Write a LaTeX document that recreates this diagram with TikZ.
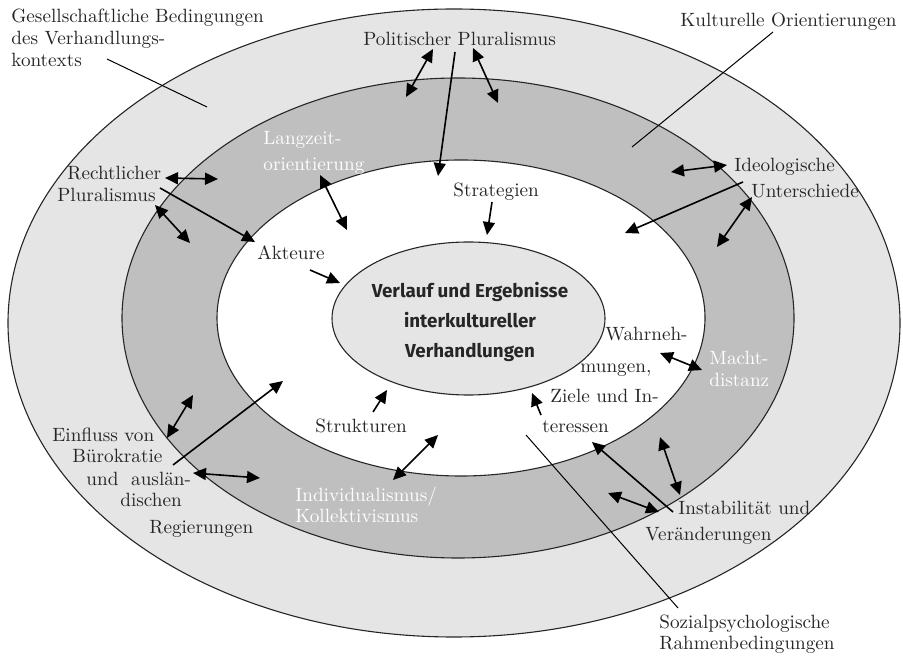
\documentclass[tikz,border=0pt]{standalone}
\usepackage{fontspec}
\newfontfamily\kernfont{Fira Sans}
\usetikzlibrary{arrows.meta}
\definecolor{ringhell}{gray}{0.9}
\definecolor{ringdunkel}{gray}{0.75}
\definecolor{schrift}{gray}{0.15}

\begin{document}
\begin{tikzpicture}[x=0.5pt,y=-0.5pt,
  ring/.style={draw=black!85,line width=0.55pt},
  lbl/.style={text=schrift,font=\fontsize{9.6}{11.25}\selectfont,inner sep=0pt,anchor=base west},
  wlbl/.style={lbl,text=white},
  zeiger/.style={draw=black,line width=0.5pt},
  pfeil/.style={zeiger,line width=0.8pt,-{Triangle[length=6.5pt,width=6pt]}},
  dpfeil/.style={zeiger,line width=0.8pt,{Triangle[length=6.5pt,width=6pt]}-{Triangle[length=6.5pt,width=6pt]}}]
\useasboundingbox (0,0) rectangle (903,656);
% Rings
  \filldraw[ring,fill=ringhell] (454,323) ellipse (446 and 314);
  \filldraw[ring,fill=ringdunkel] (458,318) ellipse (336 and 240);
  \filldraw[ring,fill=white] (461,318) ellipse (244 and 158);
  \filldraw[ring,fill=ringhell] (468.5,318.5) ellipse (136.5 and 76.5);
  \node[text=black!85,font=\kernfont\bfseries\fontsize{9.4}{15}\selectfont,align=center] (kern) at (470,322)
    {Verlauf und Ergebnisse\\interkultureller\\Verhandlungen};
%
% Outer labels
  \node[lbl] (gesA) at (11,23) {Gesellschaftliche Bedingungen};
  \node[lbl] (gesB) at (11,45) {des Verhandlungs-};
  \node[lbl] (gesC) at (11,67) {kontexts};
  \node[lbl] (pol) at (363,46) {Politischer Pluralismus};
  \node[lbl] (kult) at (680,27) {Kulturelle Orientierungen};
  \node[lbl] (rechtA) at (67,180) {Rechtlicher};
  \node[lbl] (rechtB) at (57,202) {Pluralismus};
  \node[lbl] (ideoA) at (734,172) {Ideologische};
  \node[lbl] (ideoB) at (751,198) {Unterschiede};
  \node[lbl] (einA) at (52,442) {Einfluss von};
  \node[lbl] (einB) at (72,463) {Bürokratie};
  \node[lbl] (einC) at (86,486) {und~ auslän-};
  \node[lbl] (einD) at (120,507) {dischen};
  \node[lbl] (einE) at (149,533) {Regierungen};
  \node[lbl] (instA) at (678,515) {Instabilität und};
  \node[lbl] (instB) at (645,540) {Veränderungen};
  \node[lbl] (sozA) at (659,628) {Sozialpsychologische};
  \node[lbl] (sozB) at (659,649) {Rahmenbedingungen};
% Middle ring labels
  \node[wlbl] (langA) at (263,145) {Langzeit-};
  \node[wlbl] (langB) at (263,171) {orientierung};
  \node[wlbl] (machtA) at (709,365) {Macht-};
  \node[wlbl] (machtB) at (709,387) {distanz};
  \node[wlbl] (indivA) at (295,502) {Individualismus/};
  \node[wlbl] (indivB) at (295,523) {Kollektivismus};
% Inner labels
  \node[lbl] (akt) at (257,260) {Akteure};
  \node[lbl] (strat) at (453,197) {Strategien};
  \node[lbl] (strukt) at (315,433) {Strukturen};
  \node[lbl] (wahrA) at (605,341) {Wahrneh-};
  \node[lbl] (wahrB) at (580,373) {mungen,};
  \node[lbl] (wahrC) at (550,403) {Ziele und In-};
  \node[lbl] (wahrD) at (542,433) {teressen};
%
% Connector ends
  \coordinate (ges1) at (107,59);   \coordinate (ges2) at (207,107);
  \coordinate (kult1) at (773,32);  \coordinate (kult2) at (632,147);
  \coordinate (soz1) at (678,608);  \coordinate (soz2) at (526,435);
  \coordinate (pol1) at (455,52);   \coordinate (pol2) at (438,176);
  \coordinate (polL1) at (433,49);  \coordinate (polL2) at (406,97);
  \coordinate (polR1) at (473,48);  \coordinate (polR2) at (498,103);
  \coordinate (lang1) at (320,175); \coordinate (lang2) at (347,230);
  \coordinate (recht1) at (160,188); \coordinate (recht2) at (255,242);
  \coordinate (rechtH1) at (165,178); \coordinate (rechtH2) at (218,179);
  \coordinate (rechtD1) at (155,205); \coordinate (rechtD2) at (190,243);
  \coordinate (akt1) at (310,270);  \coordinate (akt2) at (340,283);
  \coordinate (strat1) at (492,202); \coordinate (strat2) at (487,235);
  \coordinate (ideo1) at (743,182); \coordinate (ideo2) at (625,233);
  \coordinate (ideoH1) at (671,172); \coordinate (ideoH2) at (727,165);
  \coordinate (ideoD1) at (752,197); \coordinate (ideoD2) at (717,247);
  \coordinate (wahr1) at (660,353); \coordinate (wahr2) at (702,370);
  \coordinate (ziel1) at (541,415); \coordinate (ziel2) at (532,393);
  \coordinate (strukt1) at (373,412); \coordinate (strukt2) at (387,390);
  \coordinate (indiv1) at (438,435); \coordinate (indiv2) at (393,480);
  \coordinate (ein1) at (173,465);  \coordinate (ein2) at (283,381);
  \coordinate (einD1) at (167,438); \coordinate (einD2) at (193,395);
  \coordinate (einH1) at (193,473); \coordinate (einH2) at (260,478);
  \coordinate (inst1) at (673,512); \coordinate (inst2) at (592,442);
  \coordinate (instD1) at (660,437); \coordinate (instD2) at (680,495);
  \coordinate (instH1) at (608,493); \coordinate (instH2) at (659,512);
%
% Leader lines
  \draw[zeiger] (ges1) -- (ges2);
  \draw[zeiger] (kult1) -- (kult2);
  \draw[zeiger] (soz1) -- (soz2);
% Arrows
  \draw[pfeil] (pol1) -- (pol2);
  \draw[pfeil] (recht1) -- (recht2);
  \draw[pfeil] (akt1) -- (akt2);
  \draw[pfeil] (strat1) -- (strat2);
  \draw[pfeil] (ideo1) -- (ideo2);
  \draw[pfeil] (ziel1) -- (ziel2);
  \draw[pfeil] (strukt1) -- (strukt2);
  \draw[pfeil] (ein1) -- (ein2);
  \draw[pfeil] (inst1) -- (inst2);
  \draw[dpfeil] (polL1) -- (polL2);
  \draw[dpfeil] (polR1) -- (polR2);
  \draw[dpfeil] (lang1) -- (lang2);
  \draw[dpfeil] (rechtH1) -- (rechtH2);
  \draw[dpfeil] (rechtD1) -- (rechtD2);
  \draw[dpfeil] (ideoH1) -- (ideoH2);
  \draw[dpfeil] (ideoD1) -- (ideoD2);
  \draw[dpfeil] (wahr1) -- (wahr2);
  \draw[dpfeil] (indiv1) -- (indiv2);
  \draw[dpfeil] (einD1) -- (einD2);
  \draw[dpfeil] (einH1) -- (einH2);
  \draw[dpfeil] (instD1) -- (instD2);
  \draw[dpfeil] (instH1) -- (instH2);
\end{tikzpicture}
\end{document}
